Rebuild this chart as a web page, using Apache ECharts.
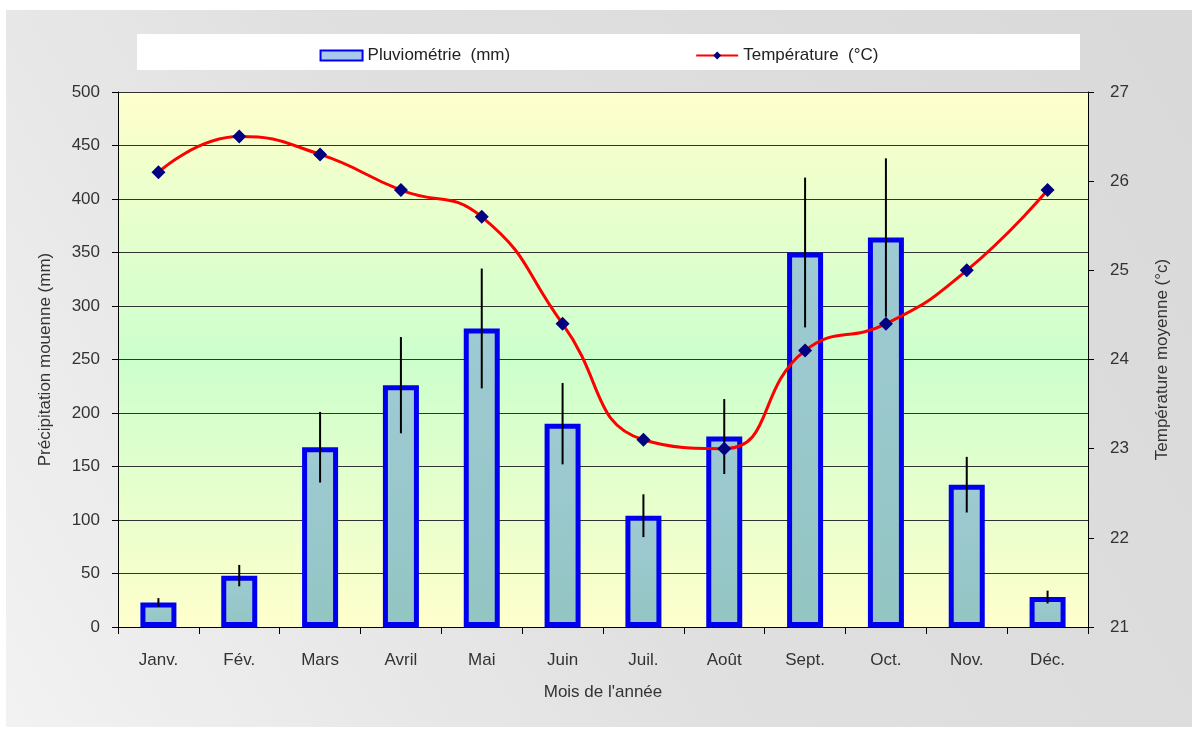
<!DOCTYPE html>
<html>
<head>
<meta charset="utf-8">
<script src="https://cdn.jsdelivr.net/npm/echarts@6/dist/echarts.min.js"></script>
<style>
  html, body { margin: 0; padding: 0; background: #fff; }
  #chart { width: 1198px; height: 729px; }
</style>
</head>
<body>
<div id="chart"></div>
<script>
// données
var months = ['Janv.', 'Fév.', 'Mars', 'Avril', 'Mai', 'Juin', 'Juil.', 'Août', 'Sept.', 'Oct.', 'Nov.', 'Déc.'];
var rain = [23, 48, 168, 226, 279, 190, 104, 178, 350, 364, 133, 28];
var rainErr = [4, 10, 33, 45, 56, 38, 20, 35, 70, 74, 26, 6];
var temp = [26.1, 26.5, 26.3, 25.9, 25.6, 24.4, 23.1, 23.0, 24.1, 24.4, 25.0, 25.9];

var font = 'Liberation Sans';
var txt = '#333';

var errData = rain.map(function (v, i) {
  return [i, v - rainErr[i], v + rainErr[i]];
});

var myChart = echarts.init(document.getElementById('chart'));

var option = {
  backgroundColor: '#fff',
  animation: false,
  textStyle: { fontFamily: font },
  graphic: [
    {
      type: 'rect', z: -10, silent: true,
      shape: { x: 6, y: 10, width: 1186, height: 717 },
      style: {
        fill: new echarts.graphic.LinearGradient(0, 1, 1, 0, [
          { offset: 0, color: '#f2f2f2' },
          { offset: 0.45, color: '#e0e0e0' },
          { offset: 1, color: '#d9d9d9' }
        ])
      }
    },
    {
      type: 'rect', z: -9, silent: true,
      shape: { x: 137, y: 34, width: 943, height: 36 },
      style: { fill: '#fff' }
    }
  ],
  legend: {
    top: 42,
    left: 'center',
    itemGap: 185,
    itemWidth: 42,
    itemHeight: 10,
    textStyle: { fontFamily: font, fontSize: 17, color: '#222' },
    data: [
      { name: 'Pluviométrie  (mm)', icon: 'rect',
        itemStyle: { color: '#a9c8ee', borderColor: '#0000ee', borderWidth: 2 } },
      { name: 'Température  (°C)' }
    ]
  },
  grid: {
    left: 118, right: 110, top: 92, bottom: 102,
    show: true,
    borderWidth: 0,
    backgroundColor: new echarts.graphic.LinearGradient(0, 0, 0, 1, [
      { offset: 0, color: '#ffffcc' },
      { offset: 0.5, color: '#ccffcc' },
      { offset: 1, color: '#ffffcc' }
    ])
  },
  xAxis: {
    type: 'category',
    data: months,
    name: "Mois de l'année",
    nameLocation: 'middle',
    nameGap: 57,
    nameTextStyle: { fontSize: 17, color: txt },
    axisLine: { lineStyle: { color: '#000', width: 1 } },
    axisTick: { show: true, length: 7, lineStyle: { color: '#000' } },
    axisLabel: { fontSize: 17, color: txt, margin: 25 }
  },
  yAxis: [
    {
      type: 'value',
      min: 0, max: 500, interval: 50,
      name: 'Précipitation mouenne (mm)',
      nameLocation: 'middle',
      nameRotate: 90,
      nameGap: 64,
      nameTextStyle: { fontSize: 17, color: txt },
      axisLine: { show: true, lineStyle: { color: '#000' } },
      axisTick: { show: true, length: 6, lineStyle: { color: '#000' } },
      axisLabel: { fontSize: 17, color: txt, margin: 18 },
      splitLine: { lineStyle: { color: '#333', width: 1.2 } }
    },
    {
      type: 'value',
      min: 21, max: 27, interval: 1,
      name: 'Température moyenne (°c)',
      nameLocation: 'middle',
      nameRotate: 90,
      nameGap: 66,
      nameTextStyle: { fontSize: 17, color: txt },
      axisLine: { show: true, lineStyle: { color: '#000' } },
      axisTick: { show: true, length: 6, lineStyle: { color: '#000' } },
      axisLabel: { fontSize: 17, color: txt, margin: 22 },
      splitLine: { show: false }
    }
  ],
  series: [
    {
      name: 'Pluviométrie  (mm)',
      type: 'bar',
      barWidth: 36,
      data: rain,
      itemStyle: {
        color: new echarts.graphic.LinearGradient(0, 0, 0, 1, [
          { offset: 0, color: '#9ecad4' },
          { offset: 1, color: '#93c5c2' }
        ]),
        borderColor: '#0000ee',
        borderWidth: 5
      },
      z: 2
    },
    {
      name: 'erreur',
      type: 'custom',
      data: errData,
      z: 3,
      renderItem: function (params, api) {
        var lo = api.coord([api.value(0), api.value(1)]);
        var hi = api.coord([api.value(0), api.value(2)]);
        return {
          type: 'line',
          shape: { x1: lo[0], y1: lo[1], x2: hi[0], y2: hi[1] },
          style: { stroke: '#000', lineWidth: 2 }
        };
      }
    },
    {
      name: 'Température  (°C)',
      type: 'line',
      yAxisIndex: 1,
      data: temp,
      smooth: 0.5,
      symbol: 'diamond',
      symbolSize: 14,
      itemStyle: { color: '#000080' },
      lineStyle: { color: '#ff0000', width: 3 },
      z: 4
    }
  ]
};

myChart.setOption(option);
</script>
</body>
</html>
